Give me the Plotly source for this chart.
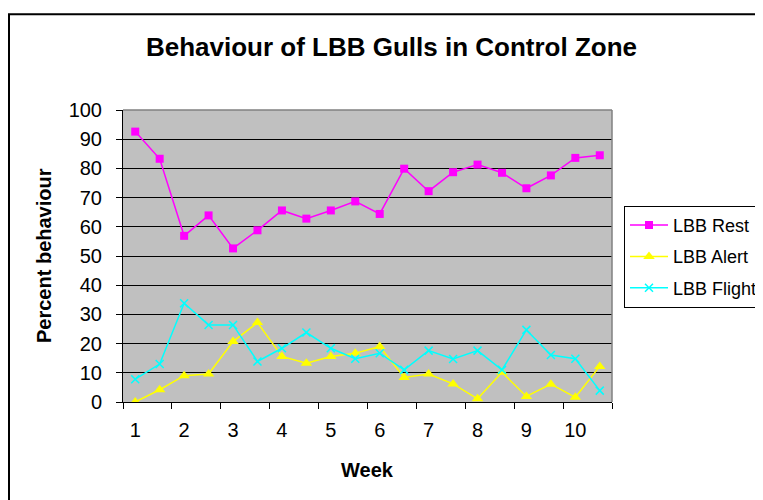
import plotly.graph_objects as go

# Sampling points (two samples per week)
weeks = [1, 1.5, 2, 2.5, 3, 3.5, 4, 4.5, 5, 5.5, 6, 6.5, 7, 7.5, 8, 8.5, 9, 9.5, 10, 10.5]
week_ticks = [1, 2, 3, 4, 5, 6, 7, 8, 9, 10]
week_tick_labels = ["1", "2", "3", "4", "5", "6", "7", "8", "9", "10"]

lbb_rest = [92.6, 83.3, 56.9, 63.9, 52.6, 58.8, 65.6, 62.8, 65.6, 68.7,
            64.4, 79.9, 72.2, 78.7, 81.3, 78.5, 73.2, 77.6, 83.6, 84.5]
lbb_alert = [0.0, 4.2, 9.0, 9.6, 20.7, 27.2, 15.6, 13.3, 15.6, 16.7,
             19.0, 8.4, 9.6, 6.2, 1.1, 10.2, 1.9, 6.1, 1.6, 12.2]
lbb_flight = [7.8, 13.0, 33.8, 26.4, 26.4, 13.9, 18.4, 23.8, 18.4, 14.8,
              16.7, 11.0, 17.6, 14.7, 17.6, 11.0, 24.7, 16.1, 14.8, 3.9]

W, H = 763, 500
OFF = 8  # page body margin
# plot area in page pixels
PL, PR, PT, PB = 123, 612, 110, 402.5
L, T = PL - OFF, PT - OFF
R, B = W - (PR - OFF), H - (PB - OFF)
pw, ph = W - L - R, H - T - B

def px_x(x):
    return (x - OFF - L) / pw

def px_y(y):
    return (H - B - (y - OFF)) / ph

fig = go.Figure()
fig.add_trace(go.Scatter(x=weeks, y=lbb_rest, name="LBB Rest", mode="lines+markers",
                         legendgroup="rest",
                         line=dict(color="#FF00FF", width=1.5),
                         marker=dict(symbol="square", size=8, color="#FF00FF")))
fig.add_trace(go.Scatter(x=weeks, y=lbb_alert, name="LBB Alert", mode="lines+markers",
                         legendgroup="alert",
                         line=dict(color="#FFFF00", width=1.5),
                         marker=dict(symbol="triangle-up", size=10, color="#FFFF00")))
fig.add_trace(go.Scatter(x=weeks, y=lbb_flight, name="LBB Flight", mode="lines+markers",
                         legendgroup="flight",
                         line=dict(color="#00FFFF", width=1.5),
                         marker=dict(symbol="x-thin", size=8, color="#00FFFF",
                                     line=dict(color="#00FFFF", width=1.5))))

font = "Arial, Liberation Sans, sans-serif"

fig.update_layout(
    width=W, height=H,
    margin=dict(l=L, r=R, t=T, b=B, pad=0, autoexpand=False),
    paper_bgcolor="white",
    plot_bgcolor="#C0C0C0",
    font=dict(family=font, size=20, color="black"),
    title=dict(text="<b>Behaviour of LBB Gulls in Control Zone</b>",
               x=(391.5 - OFF) / W, xanchor="center", xref="container",
               y=1 - (47 - OFF) / H, yanchor="middle", yref="container",
               font=dict(family=font, size=26, color="black")),
    showlegend=True,
    legend=dict(x=px_x(624), y=px_y(206), xanchor="left", yanchor="top",
                bgcolor="white", bordercolor="black", borderwidth=1,
                itemwidth=38, tracegroupgap=5,
                font=dict(family=font, size=18, color="black")),
    xaxis=dict(range=[0.75, 10.75], tickmode="array", tickvals=week_ticks,
               ticktext=week_tick_labels, ticks="outside", ticklen=10,
               tickcolor="rgba(0,0,0,0)", showgrid=False, zeroline=False,
               showline=True, linecolor="black", linewidth=1,
               minor=dict(tick0=0.75, dtick=1, ticks="outside", ticklen=6,
                          tickcolor="black", showgrid=False),
               tickfont=dict(family=font, size=20, color="black")),
    yaxis=dict(range=[0, 100], tickmode="linear", tick0=0, dtick=10,
               ticks="outside", ticklen=6, tickcolor="black",
               showgrid=True, gridcolor="black", gridwidth=1, zeroline=False,
               showline=True, linecolor="black", linewidth=1,
               ticklabelstandoff=10,
               tickfont=dict(family=font, size=20, color="black")),
    shapes=[
        dict(type="line", xref="paper", yref="paper", x0=0, x1=1, y0=1, y1=1,
             line=dict(color="#808080", width=1.5)),
        dict(type="line", xref="paper", yref="paper", x0=1, x1=1, y0=0, y1=1,
             line=dict(color="#808080", width=1.5)),
        dict(type="rect", xref="paper", yref="paper",
             x0=px_x(9), x1=px_x(900), y0=px_y(700), y1=px_y(14),
             line=dict(color="black", width=2), fillcolor="rgba(0,0,0,0)"),
    ],
    annotations=[
        dict(text="<b>Week</b>", xref="paper", yref="paper", x=0.5, y=px_y(471),
             xanchor="center", yanchor="middle", showarrow=False,
             font=dict(family=font, size=20, color="black")),
        dict(text="<b>Percent behaviour</b>", xref="paper", yref="paper",
             x=px_x(44), y=0.5, xanchor="center", yanchor="middle",
             textangle=-90, showarrow=False,
             font=dict(family=font, size=20, color="black")),
    ],
)

fig.write_html("out.html")
